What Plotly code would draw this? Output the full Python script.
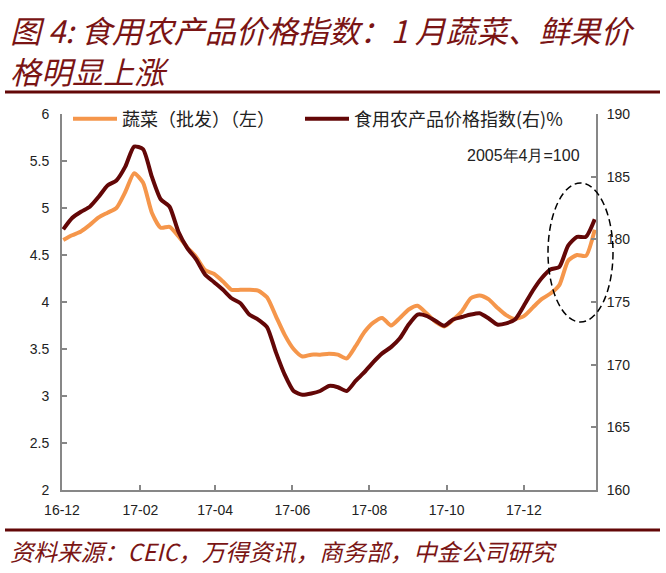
import plotly.graph_objects as go
import pandas as pd

# ---- data (weekly) ----
dates = pd.date_range("2016-12-02", periods=61, freq="7D").strftime("%Y-%m-%d").tolist()

veg_wholesale = [4.66, 4.71, 4.75, 4.82, 4.90, 4.95, 5.00, 5.17, 5.37, 5.27,
                 4.95, 4.79, 4.80, 4.70, 4.58, 4.48, 4.34, 4.30, 4.22, 4.13,
                 4.13, 4.13, 4.12, 4.05, 3.85, 3.65, 3.50, 3.42, 3.44, 3.44,
                 3.45, 3.44, 3.40, 3.53, 3.68, 3.78, 3.83, 3.75, 3.83, 3.92,
                 3.96, 3.88, 3.79, 3.74, 3.81, 3.90, 4.04, 4.07, 4.03, 3.94,
                 3.86, 3.82, 3.85, 3.94, 4.03, 4.09, 4.18, 4.44, 4.50, 4.49,
                 4.77]

food_index = [180.8, 181.7, 182.2, 182.6, 183.4, 184.3, 184.7, 185.8, 187.4, 187.2,
              185.0, 183.2, 182.6, 180.6, 179.3, 178.4, 177.2, 176.6, 176.0, 175.3,
              174.9, 174.0, 173.6, 173.0, 171.0, 169.2, 167.9, 167.6, 167.7, 167.9,
              168.3, 168.2, 167.9, 168.7, 169.4, 170.2, 170.9, 171.4, 172.1, 173.2,
              174.0, 173.9, 173.5, 173.1, 173.6, 173.8, 174.0, 174.1, 173.7, 173.2,
              173.3, 173.6, 174.7, 175.9, 176.9, 177.6, 177.8, 179.5, 180.2, 180.2,
              181.6]

series_names = ["蔬菜（批发）（左）", "食用农产品价格指数(右)%"]
title_lines = ["图 4: 食用农产品价格指数：1 月蔬菜、鲜果价", "格明显上涨"]
source_text = "资料来源：CEIC，万得资讯，商务部，中金公司研究"
base_note = "2005年4月=100"

# ---- layout helpers ----
W, H = 666, 573
L, R, T, B = 62, 596, 114, 490


def px(x):
    return (x - L) / (R - L)


def py(y):
    return (B - y) / (B - T)


ORANGE = "#F5964B"
MAROON = "#630707"
TITLE_RED = "#7A1414"
AXIS_GRAY = "#878787"
CJK = "Noto Sans CJK SC"
LAT = "Liberation Sans"

fig = go.Figure()
fig.add_trace(go.Scatter(
    x=dates, y=veg_wholesale, name=series_names[0], mode="lines",
    line=dict(color=ORANGE, width=4, shape="spline", smoothing=0.6),
    yaxis="y", legend="legend"))
fig.add_trace(go.Scatter(
    x=dates, y=food_index, name=series_names[1], mode="lines",
    line=dict(color=MAROON, width=4, shape="spline", smoothing=0.6),
    yaxis="y2", legend="legend2"))

axis_common = dict(showline=True, linecolor=AXIS_GRAY, linewidth=2,
                   ticks="inside", ticklen=5, tickwidth=2, tickcolor=AXIS_GRAY,
                   showgrid=False, zeroline=False,
                   tickfont=dict(family=LAT, size=14, color="#222222"))

legend_font = dict(family=CJK, size=18, color="#222222")

fig.update_layout(
    width=W, height=H,
    margin=dict(l=L, r=W - R, t=T, b=H - B, pad=0),
    paper_bgcolor="white", plot_bgcolor="white",
    xaxis=dict(type="date", range=["2016-12-01", "2018-01-27"],
               tick0="2016-12-01", dtick="M2", tickformat="%y-%m",
               ticklabelstandoff=6, **axis_common),
    yaxis=dict(range=[2, 6], dtick=0.5, ticklabelstandoff=8, **axis_common),
    yaxis2=dict(range=[160, 190], dtick=5, overlaying="y", side="right",
                ticklabelstandoff=6, **axis_common),
    legend=dict(orientation="h", x=px(68), xanchor="left", y=py(119), yanchor="middle",
                itemwidth=44, bgcolor="rgba(0,0,0,0)", font=legend_font),
    legend2=dict(orientation="h", x=px(300), xanchor="left", y=py(119), yanchor="middle",
                 itemwidth=44, bgcolor="rgba(0,0,0,0)", font=legend_font),
    showlegend=True,
)

annotations = [
    dict(text=title_lines[0], x=px(8), y=py(29), xanchor="left", yanchor="middle",
         font=dict(family=CJK, size=31, color=TITLE_RED, style="italic")),
    dict(text=title_lines[1], x=px(8), y=py(70), xanchor="left", yanchor="middle",
         font=dict(family=CJK, size=31, color=TITLE_RED, style="italic")),
    dict(text=source_text, x=px(8), y=py(551), xanchor="left", yanchor="middle",
         font=dict(family=CJK, size=23.5, color=TITLE_RED, style="italic")),
    dict(text=base_note, x=px(523), y=py(155), xanchor="center", yanchor="middle",
         font=dict(family=LAT, size=16, color="#222222")),
]
for a in annotations:
    a.update(xref="paper", yref="paper", showarrow=False)
fig.update_layout(annotations=annotations)

fig.update_layout(shapes=[
    dict(type="line", xref="paper", yref="paper", x0=px(5), x1=px(660), y0=py(92), y1=py(92),
         line=dict(color=MAROON, width=3)),
    dict(type="line", xref="paper", yref="paper", x0=px(5), x1=px(660), y0=py(530), y1=py(530),
         line=dict(color=MAROON, width=3)),
    dict(type="circle", xref="paper", yref="paper", x0=px(548), x1=px(613), y0=py(322), y1=py(183),
         line=dict(color="black", width=1.5, dash="7px,4px")),
])

fig.write_html("out.html", config={"displayModeBar": False},
               post_script="document.body.style.margin='0';")
